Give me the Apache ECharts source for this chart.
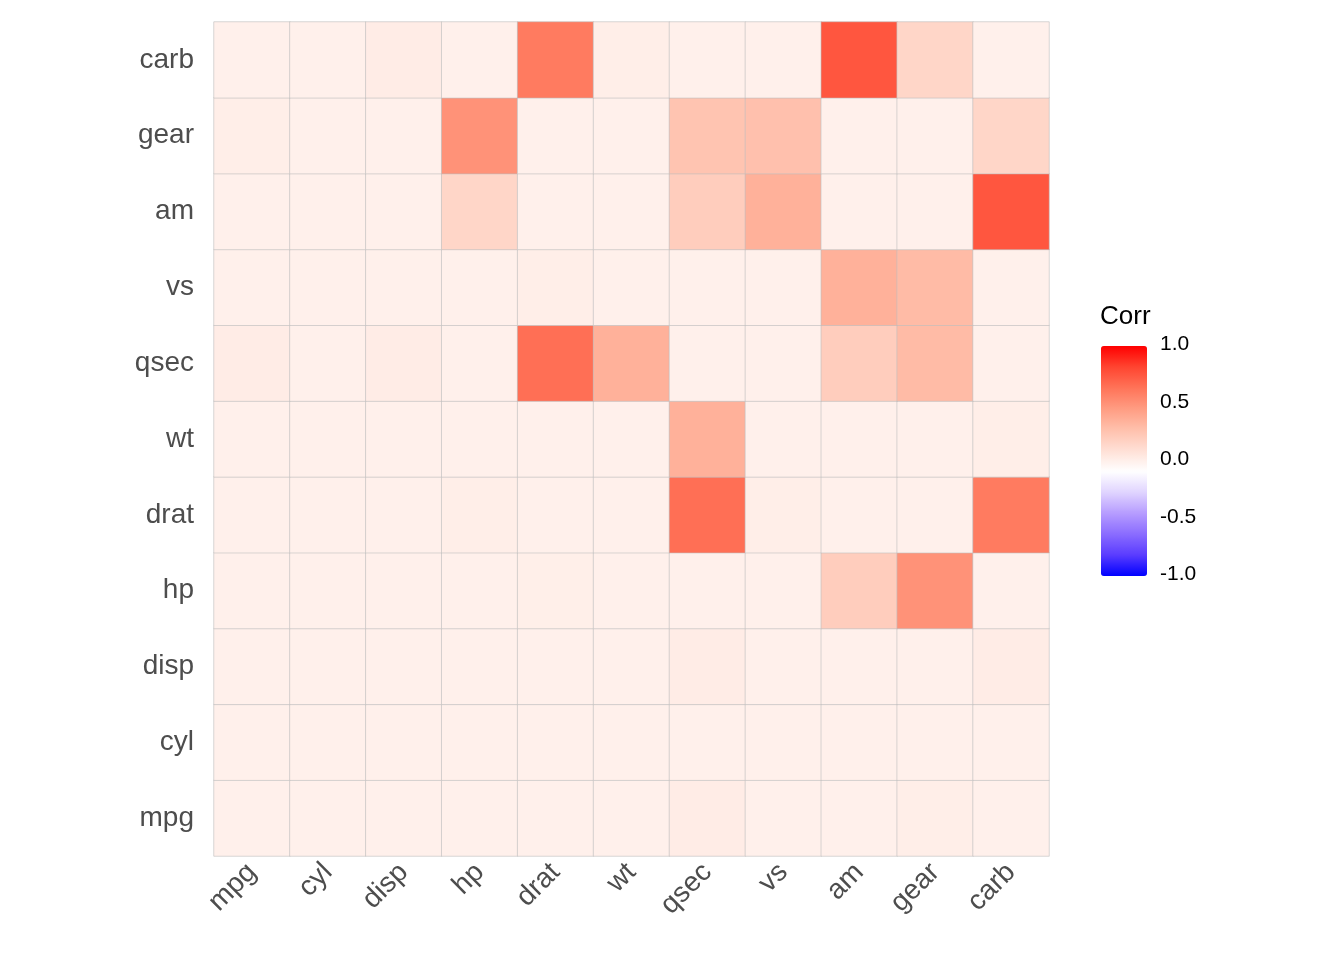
<!DOCTYPE html>
<html><head><meta charset="utf-8">
<script src="https://cdn.jsdelivr.net/npm/echarts@6/dist/echarts.min.js"></script>
<style>html,body{margin:0;background:#fff}#c{width:1344px;height:960px}</style>
</head><body><div id="c"></div>
<script>
const vars = ["mpg","cyl","disp","hp","drat","wt","qsec","vs","am","gear","carb"];
// rows listed bottom (mpg) to top (carb); each row gives values for columns mpg..carb
const rowMpg  = [0,0,0,0,0,0,0.02,0,0,0.01,0];
const rowCyl  = [0,0,0,0,0,0,0,0,0,0,0];
const rowDisp = [0,0,0,0,0,0,0.02,0,0,0,0.02];
const rowHp   = [0,0,0,0,0.005,0,0,0,0.2,0.5,0];
const rowDrat = [0,0,0,0.01,0,0,0.65,0.01,0,0,0.6];
const rowWt   = [0,0,0,0,0,0,0.35,0,0,0,0.01];
const rowQsec = [0.02,0,0.02,0,0.65,0.35,0,0,0.2,0.3,0];
const rowVs   = [0,0,0,0,0.01,0,0,0,0.35,0.3,0];
const rowAm   = [0,0,0,0.15,0,0,0.2,0.35,0,0,0.75];
const rowGear = [0.01,0,0,0.5,0,0,0.25,0.27,0,0,0.15];
const rowCarb = [0,0,0.02,0,0.6,0.01,0,0,0.75,0.15,0];
const legendTicks = ["1.0","0.5","0.0","-0.5","-1.0"];
const rows = [rowMpg,rowCyl,rowDisp,rowHp,rowDrat,rowWt,rowQsec,rowVs,rowAm,rowGear,rowCarb];
const data = [];
rows.forEach((r,y)=>r.forEach((v,x)=>data.push([x,y,v])));
const chart = echarts.init(document.getElementById('c'));
const legTop=346, legH=230;
chart.setOption({
  animation:false,
  grid:{left:214,top:22,width:835,height:834},
  xAxis:{type:'category',data:vars,axisLine:{show:false},axisTick:{show:false},splitLine:{show:false},
    axisLabel:{rotate:45,color:'#4D4D4D',fontSize:28,fontFamily:'Arial, Liberation Sans',margin:12}},
  yAxis:{type:'category',data:vars,axisLine:{show:false},axisTick:{show:false},
    axisLabel:{color:'#4D4D4D',fontSize:28,fontFamily:'Arial, Liberation Sans',margin:20}},
  visualMap:{type:'continuous',min:-1,max:1,calculable:false,left:1086,top:legTop-15,itemWidth:46,itemHeight:legH,
    text:['',''],showLabel:false,
    inRange:{color:['#0000FF','#5A3CFF','#8A6CFF','#B69CFF','#E0D4FF','#FFFFFF','#FFE0D6','#FFC0AC','#FF9C82','#FF7358','#FF4430','#FF0000']}},
  graphic:[
    {type:'text',left:1100,top:304,style:{text:'Corr',fontSize:26,fill:'#000',fontFamily:'Arial, Liberation Sans'}},
    ...legendTicks.map((t,i)=>({type:'text',left:1160,top:legTop+i*legH/4-12,style:{text:t,fontSize:21,fill:'#000',fontFamily:'Arial, Liberation Sans'}})),
    ...legendTicks.map((t,i)=>({type:'line',shape:{x1:1101,y1:legTop+i*legH/4,x2:1110,y2:legTop+i*legH/4},style:{stroke:'#fff',lineWidth:1}})),
    ...legendTicks.map((t,i)=>({type:'line',shape:{x1:1138,y1:legTop+i*legH/4,x2:1147,y2:legTop+i*legH/4},style:{stroke:'#fff',lineWidth:1}}))
  ],
  series:[{type:'heatmap',data:data,itemStyle:{borderColor:'#BDBDBD',borderWidth:0.6}}]
});
</script></body></html>
